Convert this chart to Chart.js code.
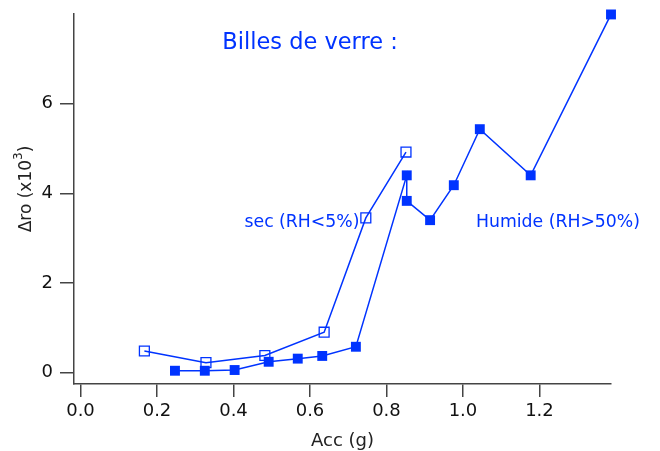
<!DOCTYPE html>
<html>
<head>
<meta charset="utf-8">
<script src="https://cdn.jsdelivr.net/npm/chart.js@4"></script>
<style>
  body { margin: 0; background: #fff; }
  canvas { display: block; }
</style>
</head>
<body>
<canvas id="myChart" width="660" height="451"></canvas>
<script>
// sec (RH<5%) - open squares
const dryAcc = [0.167, 0.328, 0.482, 0.637, 0.746, 0.851];
const dryDro = [0.48, 0.22, 0.38, 0.90, 3.45, 4.92];

// Humide (RH>50%) - filled squares
const wetAcc = [0.247, 0.325, 0.403, 0.492, 0.568, 0.632, 0.720, 0.853, 0.853, 0.914, 0.976, 1.044, 1.177, 1.387];
const wetDro = [0.04, 0.04, 0.056, 0.24, 0.31, 0.37, 0.575, 4.40, 3.83, 3.40, 4.18, 5.43, 4.40, 7.99];

const xTicks = [0, 0.2, 0.4, 0.6, 0.8, 1.0, 1.2];
const yTicks = [0, 2, 4, 6];

const blue = 'rgb(0, 51, 255)';
const axisCol = '#444';
const font = 'DejaVu Sans';

const toPts = (xs, ys) => xs.map((x, i) => ({ x: x, y: ys[i] }));

// texts inside the plot and the y title
const textPlugin = {
  id: 'texts',
  afterDraw(chart) {
    const ctx = chart.ctx;
    ctx.save();
    ctx.fillStyle = blue;
    ctx.textAlign = 'center';
    ctx.textBaseline = 'middle';
    ctx.font = '22.5px "' + font + '"';
    ctx.fillText('Billes de verre :', 310, 43);
    ctx.font = '17.3px "' + font + '"';
    ctx.fillText('sec (RH<5%)', 302, 223);
    ctx.fillText('Humide (RH>50%)', 558, 223);

    // y axis title, rotated, with superscript
    ctx.fillStyle = '#222';
    ctx.translate(27, 189);
    ctx.rotate(-Math.PI / 2);
    ctx.textAlign = 'left';
    const main = '\u0394ro (x10';
    ctx.font = '17px "' + font + '"';
    const w1 = ctx.measureText(main).width;
    ctx.font = '12px "' + font + '"';
    const w2 = ctx.measureText('3').width;
    ctx.font = '17px "' + font + '"';
    const w3 = ctx.measureText(')').width;
    let x0 = -(w1 + w2 + w3) / 2;
    ctx.fillText(main, x0, 0);
    ctx.font = '12px "' + font + '"';
    ctx.fillText('3', x0 + w1, -8);
    ctx.font = '17px "' + font + '"';
    ctx.fillText(')', x0 + w1 + w2, 0);
    ctx.restore();
  }
};

const config = {
  type: 'scatter',
  data: {
    datasets: [
      {
        label: 'sec (RH<5%)',
        data: toPts(dryAcc, dryDro),
        showLine: true,
        borderColor: blue,
        borderWidth: 1.5,
        pointStyle: 'rect',
        pointRadius: 7,
        pointBorderWidth: 1.3,
        pointBackgroundColor: 'rgba(255,255,255,0)',
        pointBorderColor: blue,
        clip: false
      },
      {
        label: 'Humide (RH>50%)',
        data: toPts(wetAcc, wetDro),
        showLine: true,
        borderColor: blue,
        borderWidth: 1.5,
        pointStyle: 'rect',
        pointRadius: 7,
        pointBorderWidth: 0,
        pointBackgroundColor: blue,
        pointBorderColor: blue,
        clip: false
      }
    ]
  },
  options: {
    responsive: false,
    animation: false,
    layout: { padding: { top: 14, right: 49, left: 0, bottom: 0 } },
    plugins: { legend: { display: false }, tooltip: { enabled: false } },
    scales: {
      x: {
        type: 'linear',
        min: -0.017,
        max: 1.387,
        afterBuildTicks: (scale) => { scale.ticks = xTicks.map(v => ({ value: v })); },
        afterFit: (scale) => {
          scale.height = 67;
          scale.paddingLeft = 0;
          scale.paddingRight = 0;
        },
        border: { display: true, color: axisCol, width: 1.5 },
        grid: { drawOnChartArea: false, drawTicks: true, tickLength: 13, color: axisCol, lineWidth: 1.5 },
        ticks: {
          padding: 4,
          color: '#111',
          font: { family: font, size: 18 },
          maxRotation: 0,
          callback: (v) => Number(v).toFixed(1)
        },
        title: {
          display: true,
          text: 'Acc (g)',
          color: '#222',
          font: { family: font, size: 18 },
          padding: { top: 0, bottom: -1 }
        }
      },
      y: {
        type: 'linear',
        min: -0.256,
        max: 8.0,
        afterBuildTicks: (scale) => { scale.ticks = yTicks.map(v => ({ value: v })); },
        afterFit: (scale) => {
          scale.width = 74;
          scale.paddingTop = 0;
          scale.paddingBottom = 0;
        },
        border: { display: true, color: axisCol, width: 1.5 },
        grid: { drawOnChartArea: false, drawTicks: true, tickLength: 14, color: axisCol, lineWidth: 1.5 },
        ticks: {
          padding: 7,
          color: '#111',
          font: { family: font, size: 18 },
          callback: (v) => String(v)
        }
      }
    }
  },
  plugins: [textPlugin]
};

const myChart = new Chart(document.getElementById('myChart'), config);
</script>
</body>
</html>
